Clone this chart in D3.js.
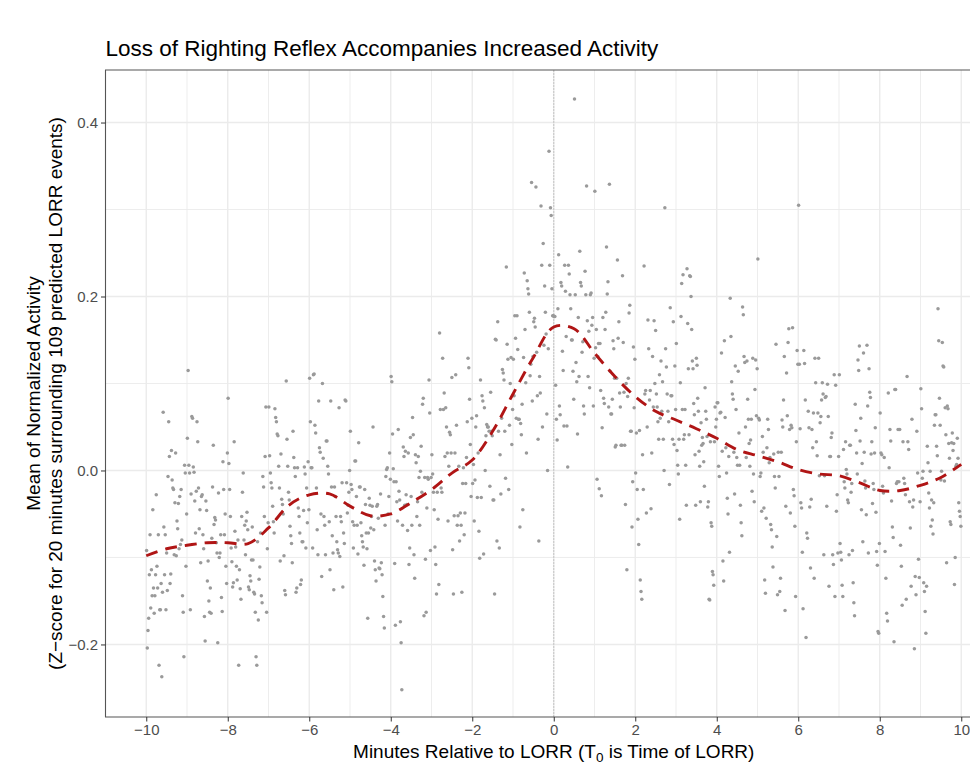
<!DOCTYPE html>
<html>
<head>
<meta charset="utf-8">
<script src="https://cdn.jsdelivr.net/npm/d3@7"></script>
<style>
  html, body { margin: 0; background: #fff; overflow: hidden; }
  text { font-family: "Liberation Sans", Arial, Helvetica, sans-serif; }
</style>
</head>
<body>
<script>
// mean normalized activity, one array per minute bin (values in time order)
var actM10 = [-0.092,-0.204,-0.184,-0.170,-0.120,-0.074,-0.158,-0.114,-0.144,-0.045,-0.135,-0.164,-0.144,-0.120,-0.028,-0.110,-0.135,-0.074,-0.224,-0.160,-0.160,-0.130,-0.237,-0.140,0.067,-0.065,-0.120,-0.074,-0.160,-0.095,-0.138,-0.007,0.056,0.016,-0.130,-0.119,0.023,-0.011,-0.020,-0.022,-0.097,-0.037,0.020,-0.098,-0.058,-0.067,-0.038,-0.090,-0.030,-0.085,-0.022,-0.080,-0.144,-0.163,-0.214,0.006,-0.003,-0.110,-0.050];
var actM9 = [0.037,0.115,0.006,-0.003,-0.160,-0.027,0.062,0.060,0.004,-0.002,-0.035,-0.072,-0.024,0.056,0.033,-0.020,-0.067,-0.045,-0.106,-0.030,-0.028,-0.074,-0.090,-0.168,-0.196,-0.035,-0.046,-0.127,-0.104,-0.150,-0.163,-0.135,-0.164,-0.078,-0.019,0.029,-0.062,-0.054,-0.057,-0.083,-0.095,-0.198,-0.026,-0.100,-0.095,-0.074,-0.146,-0.162,0.010,-0.022,-0.074,-0.050,-0.110,-0.130,0.020];
var actM8 = [0.083,0.008,-0.022,-0.053,-0.089,-0.105,-0.134,-0.129,0.033,-0.070,-0.088,-0.110,-0.126,-0.080,-0.224,-0.114,-0.136,-0.148,-0.053,-0.025,-0.003,-0.080,-0.063,-0.097,-0.058,-0.048,-0.068,-0.134,-0.137,-0.121,-0.127,-0.103,-0.065,-0.103,-0.140,-0.142,-0.163,-0.214,-0.224,-0.082,-0.172,-0.125,-0.111,-0.072,-0.144,-0.152,-0.007,-0.019,-0.053,0.016,0.073,-0.163,-0.090,-0.060];
var actM7 = [0.073,0.017,-0.003,-0.014,-0.020,-0.041,-0.059,-0.072,0.071,0.061,0.056,0.042,0.040,0.005,-0.020,-0.104,0.019,-0.033,-0.039,-0.050,-0.098,-0.138,-0.143,0.103,0.036,0.005,-0.025,-0.034,-0.064,-0.075,-0.084,-0.106,0.045,0.015,0.003,-0.007,-0.140,-0.135,0.003,-0.043,-0.053,-0.072,-0.131,-0.126,-0.082,-0.082,-0.046,0.004,-0.004,-0.089,-0.020,-0.060,0.010,-0.045];
var actM6 = [0.106,0.056,0.003,0.003,-0.089,0.110,0.111,0.052,0.043,-0.020,-0.068,-0.097,0.080,0.026,0.021,-0.050,-0.122,0.100,0.014,-0.053,-0.063,-0.097,0.034,0.034,0.005,-0.004,-0.059,-0.114,0.080,-0.019,-0.075,-0.095,-0.137,-0.019,-0.030,-0.053,-0.082,-0.091,-0.095,0.072,-0.099,-0.053,-0.059,-0.014,-0.134,-0.072,-0.084,0.081,0.080,-0.014,-0.049,-0.040,-0.025,0.000];
var actM5 = [0.045,-0.016,-0.022,-0.059,-0.089,-0.063,0.011,0.011,-0.030,-0.063,-0.096,0.032,-0.019,-0.019,-0.060,-0.075,-0.082,-0.088,-0.109,-0.022,-0.039,-0.072,-0.090,-0.170,-0.072,-0.032,-0.040,-0.066,-0.053,-0.041,0.050,-0.068,-0.104,-0.114,-0.127,-0.041,-0.039,-0.055,-0.112,-0.113,-0.027,-0.106,-0.120,-0.145,-0.168,-0.181,-0.063,-0.007,0.001,0.003,-0.050,-0.030,0.020,-0.010];
var actM4 = [0.108,0.102,0.042,0.002,-0.013,-0.107,-0.178,-0.013,-0.036,-0.058,0.047,-0.024,-0.034,-0.174,-0.198,-0.252,-0.063,0.027,0.016,-0.040,0.022,-0.028,-0.039,-0.069,0.020,-0.108,-0.089,0.038,-0.030,-0.063,0.061,0.041,-0.097,-0.124,0.018,0.009,-0.053,-0.036,0.016,-0.008,-0.063,-0.001,0.028,-0.025,0.076,0.083,-0.167,-0.008,-0.102,-0.163,-0.043,-0.008,-0.010,0.104,0.066,-0.092,-0.008];
var actM3 = [0.018,-0.004,-0.025,-0.045,-0.088,-0.108,-0.142,-0.025,-0.056,-0.131,0.158,0.070,-0.020,-0.025,0.129,0.070,0.089,0.016,0.072,0.050,0.020,-0.058,0.005,0.044,0.041,0.020,0.107,-0.091,-0.142,-0.052,0.020,0.110,0.052,-0.063,-0.052,0.005,-0.081,-0.049,-0.063,-0.140,-0.015,0.003,-0.074,-0.049,-0.015,0.015,0.056,0.129,0.118,0.082,0.030,-0.030,0.060];
var actM2 = [-0.015,0.007,-0.058,-0.011,0.050,0.063,-0.031,0.020,-0.070,-0.101,0.104,-0.031,0.086,0.080,-0.096,0.072,0.000,0.040,0.053,0.050,0.050,0.045,-0.018,0.090,0.045,0.040,-0.034,-0.034,-0.142,0.151,0.150,-0.081,0.171,0.045,-0.089,0.018,-0.027,0.060,0.116,0.112,0.104,0.045,-0.009,0.234,0.145,0.128,-0.022,0.052,0.100,0.130,0.030,0.070];
var actM1 = [0.128,0.086,0.178,0.152,0.060,0.178,0.139,0.059,0.059,-0.065,0.054,0.041,0.076,-0.045,0.130,0.227,0.162,0.101,0.020,0.218,0.209,0.203,0.182,0.109,0.122,0.331,0.080,0.131,0.171,0.175,0.165,0.326,0.136,0.086,0.036,-0.081,0.108,0.089,0.304,0.236,0.050,0.261,0.144,0.212,0.182,0.157,0.065,0.000,0.140,0.367,0.236,0.302,0.293,0.209,0.178,0.178];
var act0 = [0.177,0.177,0.098,0.059,0.035,0.186,0.248,0.074,0.064,0.216,0.212,0.137,0.115,0.051,0.236,0.206,0.154,0.051,0.004,0.236,0.226,0.202,0.186,0.150,0.150,0.114,0.082,0.427,0.202,0.124,0.102,0.042,0.176,0.108,0.252,0.216,0.212,0.136,0.148,0.074,0.065,0.229,0.202,0.327,0.172,0.108,0.160,0.095,0.202,0.204,0.167,0.176,0.074,0.129];
var act1 = [0.321,0.141,0.162,-0.010,0.131,0.146,-0.021,0.146,0.092,-0.029,0.049,0.176,0.083,0.077,0.162,0.182,0.257,0.203,0.217,0.073,0.329,0.114,0.065,0.065,0.082,0.149,0.140,0.106,0.027,0.029,0.106,0.242,0.152,0.171,0.089,0.073,0.029,0.029,0.224,0.147,0.090,0.029,-0.039,0.100,-0.114,0.085,0.106,0.181,0.190,0.045,0.045,-0.065,-0.013,0.142,0.072,0.128];
var act2 = [-0.003,0.043,-0.022,-0.056,-0.085,0.046,-0.126,-0.139,-0.148,0.018,-0.022,0.235,0.088,0.092,-0.049,0.050,0.173,0.140,0.081,0.092,-0.044,0.020,0.131,0.073,0.172,0.100,0.161,0.088,0.073,0.056,0.036,0.110,0.060,0.126,0.068,0.102,0.036,0.000,0.302,0.140,0.119,0.088,0.068,0.056,-0.016,0.187,0.086,0.086,0.036,0.171,0.030,0.120,0.070];
var act3 = [0.146,0.023,0.006,-0.004,0.036,-0.056,0.101,0.177,0.215,0.070,0.225,0.036,0.041,0.070,0.006,-0.040,0.232,0.169,0.117,0.041,0.224,0.223,0.200,0.162,0.126,0.117,0.077,0.064,0.018,-0.040,0.129,0.121,0.083,0.068,0.022,0.005,-0.036,0.055,0.029,0.038,0.031,0.010,-0.018,0.095,0.068,0.059,0.039,-0.042,-0.036,-0.148,-0.149,0.033,-0.060,-0.064,-0.116,-0.120,-0.132,0.033,0.073,0.050,0.059];
var act4 = [0.078,0.078,0.005,-0.007,0.066,0.067,0.135,0.022,-0.104,-0.127,0.149,0.061,0.026,-0.003,-0.032,-0.050,0.016,-0.094,0.198,0.154,0.102,0.088,0.082,0.021,-0.027,0.120,0.070,0.015,0.006,0.114,0.043,0.006,-0.040,-0.060,-0.075,0.188,0.179,0.131,0.124,0.050,0.015,0.126,0.082,0.059,0.031,0.005,0.035,0.059,-0.024,0.129,-0.004,-0.036,0.093,0.127,0.063,0.117];
var act5 = [0.243,0.060,0.058,-0.007,-0.003,-0.047,0.039,0.021,-0.043,-0.126,-0.141,-0.055,0.026,0.059,0.047,0.009,0.015,-0.062,-0.068,-0.088,-0.111,0.019,-0.007,-0.020,0.145,-0.076,-0.143,0.021,-0.007,-0.139,-0.124,0.021,0.058,0.050,0.081,0.131,-0.161,-0.041,0.112,0.063,0.147,0.163,0.047,-0.049,0.052,0.049,0.164,-0.022,-0.029,-0.064,-0.145,0.033,0.138,0.122];
var act6 = [0.305,0.122,0.048,-0.037,-0.043,-0.094,-0.159,0.138,0.123,0.081,-0.192,-0.072,-0.078,0.068,0.049,-0.042,-0.112,-0.033,0.047,0.026,0.066,-0.124,0.129,0.101,0.033,0.017,0.066,0.129,-0.006,0.055,0.062,0.081,0.101,0.088,-0.097,-0.006,0.084,0.085,-0.041,0.099,0.062,-0.133,0.016,0.016,0.038,0.043,-0.097,-0.108,0.110,-0.145,0.098,-0.047,-0.028,-0.095,0.016];
var act7 = [0.110,-0.084,-0.094,-0.103,-0.132,-0.145,0.024,-0.013,-0.020,0.033,0.001,-0.004,-0.034,-0.037,-0.097,0.029,0.029,-0.025,-0.015,-0.092,-0.129,-0.152,-0.167,0.076,0.046,0.020,-0.004,0.127,0.115,0.143,0.034,0.060,-0.045,0.008,-0.082,0.135,0.021,-0.012,-0.020,-0.051,0.144,0.074,-0.095,0.117,0.090,0.084,0.019,0.033,-0.038,-0.015,-0.022,0.020,0.049,-0.048,-0.093,-0.109,-0.185,-0.187,-0.084];
var act8 = [0.066,0.020,0.018,-0.018,-0.026,0.015,-0.093,-0.124,-0.164,-0.173,0.089,0.003,0.047,0.034,-0.035,-0.065,-0.077,-0.197,0.093,0.093,-0.015,-0.013,0.047,-0.013,0.047,-0.086,-0.110,-0.155,0.033,-0.009,-0.015,-0.028,-0.148,0.108,0.033,0.024,-0.036,-0.066,-0.133,0.059,-0.042,-0.034,-0.205,-0.122,-0.143,0.045,-0.003,-0.102,-0.123,-0.036];
var act9 = [0.094,0.071,-0.009,-0.001,-0.129,-0.139,-0.162,-0.187,-0.133,0.028,0.009,-0.026,-0.043,-0.001,-0.064,-0.034,-0.057,-0.073,-0.037,0.052,0.064,0.064,0.028,0.017,0.186,0.149,0.083,0.052,-0.011,-0.001,0.147,0.120,0.119,-0.012,0.072,0.041,-0.106,0.074,0.071,0.031,0.014,-0.059,-0.062,0.032,0.043,0.023,0.031,-0.131,-0.100,0.005,0.007,0.037,0.014,-0.037,-0.047,-0.053,-0.064];

var binStarts = [-10,-9,-8,-7,-6,-5,-4,-3,-2,-1,0,1,2,3,4,5,6,7,8,9];
var binValues = [actM10,actM9,actM8,actM7,actM6,actM5,actM4,actM3,actM2,actM1,act0,act1,act2,act3,act4,act5,act6,act7,act8,act9];

// loess smooth, read every half minute
var smoothX = [-10,-9.5,-9,-8.5,-8,-7.5,-7,-6.5,-6,-5.5,-5,-4.5,-4,-3.5,-3,-2.5,-2,-1.5,-1,-0.5,0,0.5,1,1.5,2,2.5,3,3.5,4,4.5,5,5.5,6,6.5,7,7.5,8,8.5,9,9.5,10];
var smoothY = [-0.098,-0.090,-0.086,-0.083,-0.083,-0.084,-0.066,-0.040,-0.028,-0.027,-0.041,-0.052,-0.050,-0.037,-0.022,-0.003,0.012,0.045,0.088,0.130,0.165,0.163,0.135,0.108,0.085,0.068,0.058,0.048,0.037,0.024,0.017,0.010,0.001,-0.004,-0.006,-0.014,-0.023,-0.023,-0.017,-0.008,0.007];

var xTicks = [-10,-8,-6,-4,-2,0,2,4,6,8,10];
var xMinor = [-9,-7,-5,-3,-1,1,3,5,7,9];
var yTicks = [-0.2,0,0.2,0.4];
var yMinor = [-0.1,0.1,0.3];

var W = 970, H = 765;
var panel = { left: 105.5, right: 1002, top: 70, bottom: 717 };

var x = d3.scaleLinear().domain([-11, 11]).range([panel.left, panel.right]);
var y = d3.scaleLinear().domain([-0.2834, 0.4604]).range([panel.bottom, panel.top]);

var svg = d3.select("body").append("svg")
    .attr("width", W)
    .attr("height", H)
    .style("display", "block");

svg.append("defs").append("clipPath").attr("id", "clip")
  .append("rect")
    .attr("x", panel.left).attr("y", panel.top)
    .attr("width", panel.right - panel.left)
    .attr("height", panel.bottom - panel.top);

var plot = svg.append("g").attr("clip-path", "url(#clip)");

// grid lines (theme_bw)
plot.selectAll(".gxm").data(xMinor).enter().append("line")
    .attr("x1", d => x(d)).attr("x2", d => x(d))
    .attr("y1", panel.top).attr("y2", panel.bottom)
    .attr("stroke", "#ebebeb").attr("stroke-width", 0.9);
plot.selectAll(".gym").data(yMinor).enter().append("line")
    .attr("x1", panel.left).attr("x2", panel.right)
    .attr("y1", d => y(d)).attr("y2", d => y(d))
    .attr("stroke", "#ebebeb").attr("stroke-width", 0.9);
plot.selectAll(".gx").data(xTicks).enter().append("line")
    .attr("x1", d => x(d)).attr("x2", d => x(d))
    .attr("y1", panel.top).attr("y2", panel.bottom)
    .attr("stroke", "#ebebeb").attr("stroke-width", 1.4);
plot.selectAll(".gy").data(yTicks).enter().append("line")
    .attr("x1", panel.left).attr("x2", panel.right)
    .attr("y1", d => y(d)).attr("y2", d => y(d))
    .attr("stroke", "#ebebeb").attr("stroke-width", 1.4);

// reference line at LORR
plot.append("line")
    .attr("x1", x(0)).attr("x2", x(0))
    .attr("y1", panel.top).attr("y2", panel.bottom)
    .attr("stroke", "#c4c4c4").attr("stroke-width", 1)
    .attr("stroke-dasharray", "2,1");

// points
var pts = [];
binStarts.forEach(function (start, i) {
    var vals = binValues[i];
    vals.forEach(function (v, j) {
        pts.push({ t: start + (j + 0.5) / vals.length, v: v });
    });
});

plot.selectAll(".pt").data(pts).enter().append("circle")
    .attr("cx", d => x(d.t))
    .attr("cy", d => y(d.v))
    .attr("r", 1.75)
    .attr("fill", "#9a9a9a");

// smooth line
var smooth = smoothX.map((d, i) => [d, smoothY[i]]);
var line = d3.line()
    .x(d => x(d[0]))
    .y(d => y(d[1]))
    .curve(d3.curveCatmullRom);

plot.append("path")
    .datum(smooth)
    .attr("d", line)
    .attr("fill", "none")
    .attr("stroke", "#b01515")
    .attr("stroke-width", 2.9)
    .attr("stroke-dasharray", "12,8");

// panel border (right side falls outside the window)
svg.append("path")
    .attr("d", "M" + panel.right + "," + panel.top + "H" + panel.left + "V" + panel.bottom + "H" + panel.right)
    .attr("fill", "none")
    .attr("stroke", "#555").attr("stroke-width", 1.1);

var fmt = function (d) { return (d < 0 ? "\u2212" : "") + Math.abs(d); };
var fmtY = function (d) { return (d < 0 ? "\u2212" : "") + Math.abs(d).toFixed(1); };

// X axis
var gx = svg.append("g")
    .attr("transform", "translate(0," + panel.bottom + ")")
    .call(d3.axisBottom(x).tickValues(xTicks).tickSize(4.5).tickPadding(3).tickFormat(fmt));
gx.select(".domain").remove();
gx.selectAll("line").attr("stroke", "#333");
gx.selectAll("text").attr("fill", "#4d4d4d").attr("font-size", 15)
    .attr("font-family", "Liberation Sans, Arial, sans-serif");

// Y axis
var gy = svg.append("g")
    .attr("transform", "translate(" + panel.left + ",0)")
    .call(d3.axisLeft(y).tickValues(yTicks).tickSize(4.5).tickPadding(3).tickFormat(fmtY));
gy.select(".domain").remove();
gy.selectAll("line").attr("stroke", "#333");
gy.selectAll("text").attr("fill", "#4d4d4d").attr("font-size", 15)
    .attr("font-family", "Liberation Sans, Arial, sans-serif");

// titles
svg.append("text")
    .attr("x", panel.left).attr("y", 56)
    .attr("font-size", 22.5).attr("fill", "#000")
    .text("Loss of Righting Reflex Accompanies Increased Activity");

var xt = svg.append("text")
    .attr("x", (panel.left + panel.right) / 2).attr("y", 758)
    .attr("text-anchor", "middle")
    .attr("font-size", 19).attr("fill", "#000");
xt.append("tspan").text("Minutes Relative to LORR (T");
xt.append("tspan").attr("font-size", 13.5).attr("dy", 4).text("0");
xt.append("tspan").attr("dy", -4).text(" is Time of LORR)");

var cy = (panel.top + panel.bottom) / 2;
svg.append("text")
    .attr("transform", "translate(40," + cy + ") rotate(-90)")
    .attr("text-anchor", "middle")
    .attr("font-size", 19).attr("fill", "#000")
    .text("Mean of Normalized Activity");
svg.append("text")
    .attr("transform", "translate(62," + cy + ") rotate(-90)")
    .attr("text-anchor", "middle")
    .attr("font-size", 19).attr("fill", "#000")
    .text("(Z\u2212score for 20 minutes surrounding 109 predicted LORR events)");
</script>
</body>
</html>
